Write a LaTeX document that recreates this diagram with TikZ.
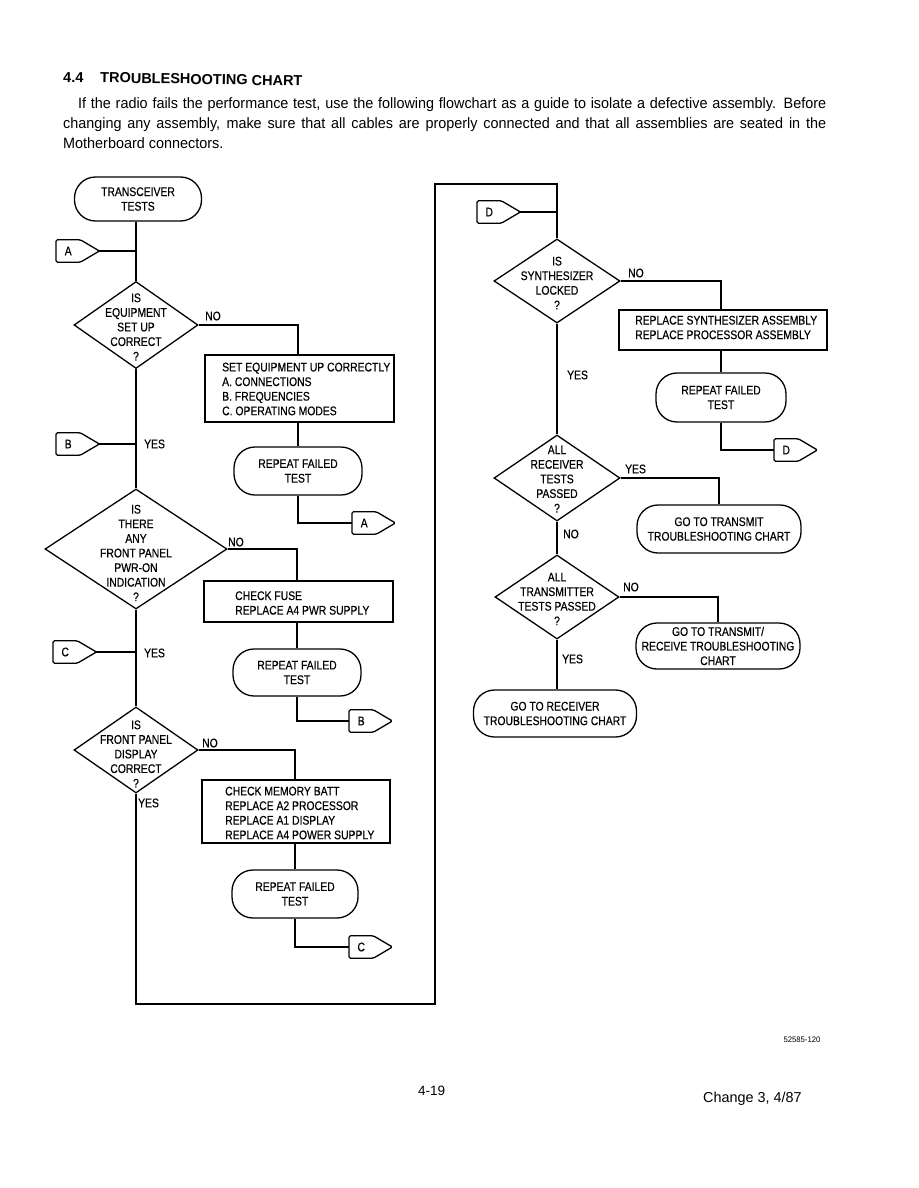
\documentclass[tikz,border=0pt]{standalone}
\usepackage{fontspec}
\setmainfont{Liberation Sans}
\newfontfamily\chartfont[FakeStretch=0.83,FakeBold=0.4]{Liberation Sans}
\newfontfamily\parfont[FakeStretch=0.96]{Liberation Sans}
\usetikzlibrary{shapes.geometric}
\newcommand\offpage[3]{%
  \node[ctext, minimum width=24pt, minimum height=22pt, anchor=west] (#1) at (#2) {#3};
  \draw[ln, rounded corners=1.5pt] (#1.north west) -- (#1.north east) -- ([xshift=19pt]#1.east) coordinate (#1tip) -- (#1.south east) -- (#1.south west) -- cycle;}
\begin{document}
\begin{tikzpicture}[x=1pt,y=-1pt,
  ln/.style={line width=1.3pt},
  ctext/.style={font=\chartfont\fontsize{12.5}{14.6}\selectfont, inner sep=0pt},
  term/.style={draw, ln, ctext, align=center, rounded corners=21pt},
  boxs/.style={draw, ln, inner sep=0pt},
  dec/.style={draw, ln, diamond, inner sep=0pt},
  lab/.style={ctext, anchor=west},
  ptext/.style={font=\parfont\fontsize{15}{17}\selectfont, inner sep=0pt, anchor=base west}]
\useasboundingbox (0,0) rectangle (918,1188);
\fill[white] (0,0) rectangle (918,1188);

% heading and paragraph
\node[font=\bfseries\fontsize{14.5}{17}\selectfont, inner sep=0pt, anchor=base west, rotate=-1] (h1) at (63,82) {4.4};
\node[font=\bfseries\fontsize{14.5}{17}\selectfont, inner sep=0pt, anchor=base west, rotate=-1] (h2) at (100,82.6) {TROUBLESHOOTING CHART};
\node[ptext] (p1) at (78,109) {\makebox[748pt][s]{If the radio fails the performance test, use the following flowchart as a guide to isolate a defective assembly. Before}};
\node[ptext] (p2) at (63,128.5) {\makebox[763pt][s]{changing any assembly, make sure that all cables are properly connected and that all assemblies are seated in the}};
\node[ptext] (p3) at (63,148) {Motherboard connectors.};

% ---------------- left column ----------------
\node[term, minimum width=127pt, minimum height=44pt] (t1) at (138,199) {TRANSCEIVER\\TESTS};
\offpage{ca}{56,251}{A}

\node[dec, minimum width=124pt, minimum height=87pt] (d1) at (136,325) {};
\node[ctext, align=center] (d1x) at (136,327) {IS\\EQUIPMENT\\SET UP\\CORRECT\\?};
\node[lab] (no1) at (205,316) {NO};

\node[boxs, minimum width=189pt, minimum height=67pt] (b1) at (299.5,388.5) {};
\node[ctext, align=left, anchor=west] (b1x) at (222,389) {SET EQUIPMENT UP CORRECTLY\\A. CONNECTIONS\\B. FREQUENCIES\\C. OPERATING MODES};
\node[term, minimum width=128pt, minimum height=48pt] (r1) at (298,471) {REPEAT FAILED\\TEST};
\offpage{ca2}{352,523}{A}

\offpage{cb}{56,444}{B}
\node[lab] (yes1) at (144,444) {YES};

\node[dec, minimum width=182pt, minimum height=120pt] (d2) at (136,549) {};
\node[ctext, align=center] (d2x) at (136,553) {IS\\THERE\\ANY\\FRONT PANEL\\PWR-ON\\INDICATION\\?};
\node[lab] (no2) at (228,542) {NO};

\node[boxs, minimum width=189pt, minimum height=41pt] (b2) at (298.5,601.5) {};
\node[ctext, align=left, anchor=west] (b2x) at (235,603) {CHECK FUSE\\REPLACE A4 PWR SUPPLY};
\node[term, minimum width=128pt, minimum height=47pt] (r2) at (297,672.5) {REPEAT FAILED\\TEST};
\offpage{cb2}{349,721}{B}

\offpage{cc}{53,652}{C}
\node[lab] (yes2) at (144,653) {YES};

\node[dec, minimum width=124pt, minimum height=86pt] (d3) at (136,750) {};
\node[ctext, align=center] (d3x) at (136,754) {IS\\FRONT PANEL\\DISPLAY\\CORRECT\\?};
\node[lab] (no3) at (202,743) {NO};
\node[lab] (yes3) at (138,803) {YES};

\node[boxs, minimum width=188pt, minimum height=63pt] (b3) at (296,811.5) {};
\node[ctext, align=left, anchor=west] (b3x) at (225,813) {CHECK MEMORY BATT\\REPLACE A2 PROCESSOR\\REPLACE A1 DISPLAY\\REPLACE A4 POWER SUPPLY};
\node[term, minimum width=126pt, minimum height=48pt] (r3) at (295,894) {REPEAT FAILED\\TEST};
\offpage{cc2}{349,947}{C}

% ---------------- right column ----------------
\offpage{cd}{477,212}{D}
\node[dec, minimum width=126pt, minimum height=84pt] (d4) at (557,281) {};
\node[ctext, align=center] (d4x) at (557,283) {IS\\SYNTHESIZER\\LOCKED\\?};
\node[lab] (no4) at (628,273) {NO};

\node[boxs, minimum width=208pt, minimum height=40pt] (b4) at (723,330) {};
\node[ctext, align=left, anchor=west] (b4x) at (635,327.5) {REPLACE SYNTHESIZER ASSEMBLY\\REPLACE PROCESSOR ASSEMBLY};
\node[term, minimum width=130pt, minimum height=49pt] (r4) at (721,397.5) {REPEAT FAILED\\TEST};
\offpage{cd2}{774,450}{D}
\node[lab] (yes4) at (567,375) {YES};

\node[dec, minimum width=126pt, minimum height=86pt] (d5) at (557,478) {};
\node[ctext, align=center] (d5x) at (557,479) {ALL\\RECEIVER\\TESTS\\PASSED\\?};
\node[lab] (yes5) at (625,469) {YES};
\node[term, minimum width=164pt, minimum height=48pt] (r5) at (719,529) {GO TO TRANSMIT\\TROUBLESHOOTING CHART};
\node[lab] (no5) at (563,534) {NO};

\node[dec, minimum width=124pt, minimum height=84pt] (d6) at (557,597) {};
\node[ctext, align=center] (d6x) at (557,599) {ALL\\TRANSMITTER\\TESTS PASSED\\?};
\node[lab] (no6) at (623,587) {NO};
\node[term, minimum width=164pt, minimum height=46pt] (r6) at (718,646) {GO TO TRANSMIT/\\RECEIVE TROUBLESHOOTING\\CHART};
\node[lab] (yes6) at (562,659) {YES};
\node[term, minimum width=163pt, minimum height=47pt] (r7) at (555,713.5) {GO TO RECEIVER\\TROUBLESHOOTING CHART};

% loop corners
\coordinate (lb) at (136,1004);
\coordinate (rb) at (435,1004);
\coordinate (rt) at (435,184);
\coordinate (rt2) at (557,184);

% ---------------- connectors ----------------
\draw[ln] (t1.south -| d1.north) -- (d1.north);
\draw[ln] (catip) -- (catip -| d1.north);
\draw[ln] (d1.south) -- (d2.north);
\draw[ln] (cbtip) -- (cbtip -| d1.south);
\draw[ln] (d1.east) -| (b1.north -| r1.north);
\draw[ln] (b1.south -| r1.north) -- (r1.north);
\draw[ln] (r1.south) |- (ca2.west);

\draw[ln] (d2.south) -- (d3.north);
\draw[ln] (cctip) -- (cctip -| d2.south);
\draw[ln] (d2.east) -| (b2.north -| r2.north);
\draw[ln] (b2.south -| r2.north) -- (r2.north);
\draw[ln] (r2.south) |- (cb2.west);

\draw[ln] (d3.east) -| (b3.north -| r3.north);
\draw[ln] (b3.south -| r3.north) -- (r3.north);
\draw[ln] (r3.south) |- (cc2.west);

\draw[ln] (d3.south) -- (lb) -- (rb) -- (rt) -- (rt2) -- (d4.north);
\draw[ln] (cdtip) -- (cdtip -| d4.north);
\draw[ln] (d4.east) -| (b4.north -| r4.north);
\draw[ln] (b4.south -| r4.north) -- (r4.north);
\draw[ln] (r4.south) |- (cd2.west);

\draw[ln] (d4.south) -- (d5.north);
\draw[ln] (d5.east) -| (r5.north);
\draw[ln] (d5.south) -- (d6.north);
\draw[ln] (d6.east) -| (r6.north);
\draw[ln] (d6.south) -- (d6.south |- r7.north);

% footer
\node[font=\parfont\fontsize{8}{9}\selectfont, inner sep=0pt] (fig) at (802,1040) {52585-120};
\node[font=\fontsize{13.5}{16}\selectfont, inner sep=0pt, anchor=base west] (pg) at (418,1095) {4-19};
\node[font=\fontsize{14.4}{17}\selectfont, inner sep=0pt, anchor=base west] (chg) at (703,1102) {Change 3, 4/87};
\end{tikzpicture}
\end{document}
